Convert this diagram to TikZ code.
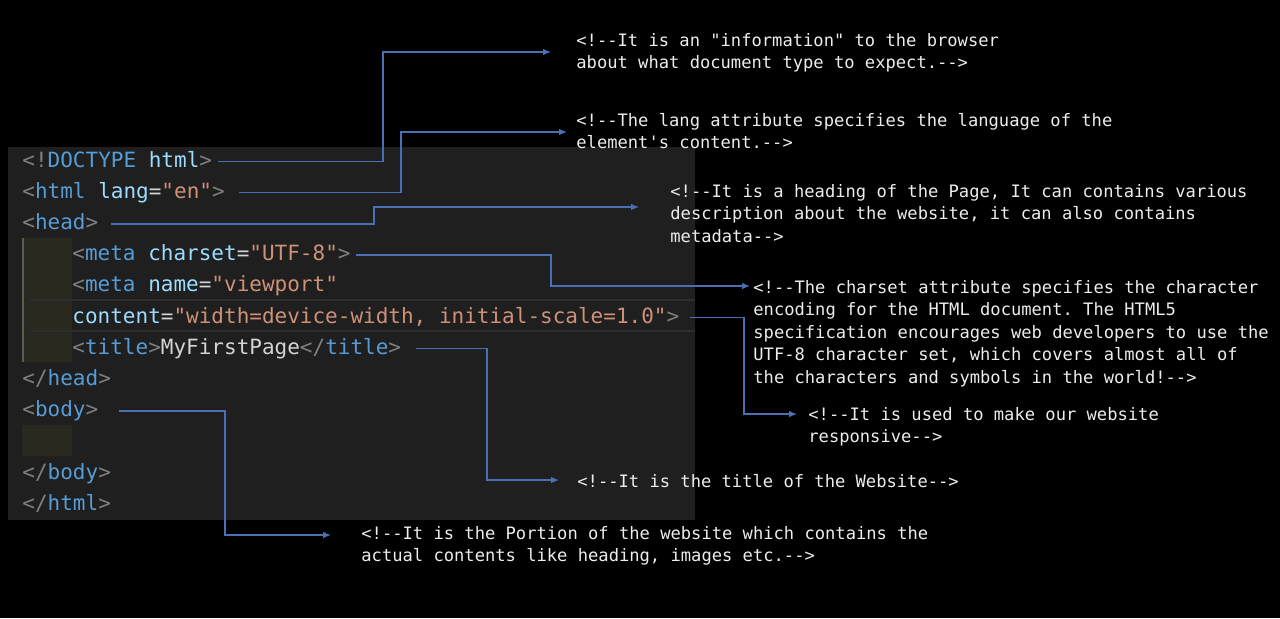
\documentclass[tikz,border=0pt]{standalone}
\usepackage{fontspec}
\setmonofont{DejaVu Sans Mono}
\usetikzlibrary{arrows.meta}

\definecolor{panelbg}{HTML}{1F1F1F}
\definecolor{indentbg}{HTML}{29291F}
\definecolor{guidegray}{HTML}{5C5C52}
\definecolor{linehl}{HTML}{2E2E2E}
\definecolor{brk}{HTML}{808080}
\definecolor{tagblue}{HTML}{569CD6}
\definecolor{attrblue}{HTML}{9CDCFE}
\definecolor{strorange}{HTML}{CE9178}
\definecolor{codetext}{HTML}{D4D4D4}
\definecolor{notetext}{HTML}{EDEDED}
\definecolor{connblue}{HTML}{4A6FB5}

\newcommand{\cbr}[1]{\textcolor{brk}{#1}}
\newcommand{\ctag}[1]{\textcolor{tagblue}{#1}}
\newcommand{\cattr}[1]{\textcolor{attrblue}{#1}}
\newcommand{\cstr}[1]{\textcolor{strorange}{#1}}

\tikzset{
  code/.style={anchor=base west, inner sep=0pt, text height=8pt, text depth=2.5pt,
    font=\ttfamily\fontsize{10.5}{12}\selectfont, text=codetext},
  note/.style={anchor=north west, inner sep=0pt, align=left,
    font=\ttfamily\fontsize{8.56}{11.2}\selectfont, text=notetext},
  conn/.style={draw=connblue, line width=0.7pt, -{Latex[length=4pt,width=3.4pt]}},
}

\begin{document}
\begin{tikzpicture}[x=0.5pt,y=-0.5pt]
  \fill[black] (0,0) rectangle (1280,618);
  \useasboundingbox (0,0) rectangle (1280,618);
  % editor panel
  \fill[panelbg] (8,147) rectangle (695,520);
  \fill[indentbg] (22,238) rectangle (72,362);
  \fill[indentbg] (22,425) rectangle (72,456);
  \draw[guidegray, line width=1pt] (22.5,238) -- (22.5,362);
  \draw[linehl, line width=1pt] (30,300) -- (695,300);
  \draw[linehl, line width=1pt] (30,331) -- (695,331);

  % code lines
  \node[code] (doctype) at (22,167) {\cbr{<!}\ctag{DOCTYPE} \cattr{html}\cbr{>}};
  \node[code] (htmlopen) at (22,198.2) {\cbr{<}\ctag{html} \cattr{lang}=\cstr{"en"}\cbr{>}};
  \node[code] (headopen) at (22,229.4) {\cbr{<}\ctag{head}\cbr{>}};
  \node[code] (charset) at (72,260.6) {\cbr{<}\ctag{meta} \cattr{charset}=\cstr{"UTF-8"}\cbr{>}};
  \node[code] (viewport) at (72,291.8) {\cbr{<}\ctag{meta} \cattr{name}=\cstr{"viewport"}};
  \node[code] (content) at (72,323) {\cattr{content}=\cstr{"width=device-width, initial-scale=1.0"}\cbr{>}};
  \node[code] (title) at (72,354.2) {\cbr{<}\ctag{title}\cbr{>}MyFirstPage\cbr{</}\ctag{title}\cbr{>}};
  \node[code] (headclose) at (22,385.4) {\cbr{</}\ctag{head}\cbr{>}};
  \node[code] (bodyopen) at (22,416.6) {\cbr{<}\ctag{body}\cbr{>}};
  \node[code] (bodyclose) at (22,479) {\cbr{</}\ctag{body}\cbr{>}};
  \node[code] (htmlclose) at (22,510.2) {\cbr{</}\ctag{html}\cbr{>}};

  % comments
  \node[note] (notedoc) at (576,33) {<!--It is an "information" to the browser\\about what document type to expect.-->};
  \node[note] (notelang) at (576,113) {<!--The lang attribute specifies the language of the\\element's content.-->};
  \node[note] (notehead) at (670,184) {<!--It is a heading of the Page, It can contains various\\description about the website, it can also contains\\metadata-->};
  \node[note] (notecharset) at (753,280) {<!--The charset attribute specifies the character\\encoding for the HTML document. The HTML5\\specification encourages web developers to use the\\UTF-8 character set, which covers almost all of\\the characters and symbols in the world!-->};
  \node[note] (noteview) at (808,407) {<!--It is used to make our website\\responsive-->};
  \node[note] (notetitle) at (577,474) {<!--It is the title of the Website-->};
  \node[note] (notebody) at (361,526) {<!--It is the Portion of the website which contains the\\actual contents like heading, images etc.-->};

  % connectors
  \coordinate (docbend) at (383,52);   \coordinate (doctip) at (551,52);
  \coordinate (langbend) at (401,132); \coordinate (langtip) at (567,132);
  \coordinate (headbend) at (374,207); \coordinate (headtip) at (639,207);
  \coordinate (charbend) at (551,286); \coordinate (chartip) at (750,286);
  \coordinate (viewbend) at (744,414); \coordinate (viewtip) at (797,414);
  \coordinate (titlebend) at (487,480); \coordinate (titletip) at (559,480);
  \coordinate (bodybend) at (225,535); \coordinate (bodytip) at (331,535);
  \draw[conn] ([xshift=3pt]doctype.east) -| (docbend) -- (doctip);
  \draw[conn] ([xshift=7pt]htmlopen.east) -| (langbend) -- (langtip);
  \draw[conn] ([xshift=6pt]headopen.east) -| (headbend) -- (headtip);
  \draw[conn] ([xshift=2.5pt]charset.east) -| (charbend) -- (chartip);
  \draw[conn] ([xshift=5pt]content.east) -| (viewbend) -- (viewtip);
  \draw[conn] ([xshift=7pt]title.east) -| (titlebend) -- (titletip);
  \draw[conn] ([xshift=10pt]bodyopen.east) -| (bodybend) -- (bodytip);
\end{tikzpicture}
\end{document}
